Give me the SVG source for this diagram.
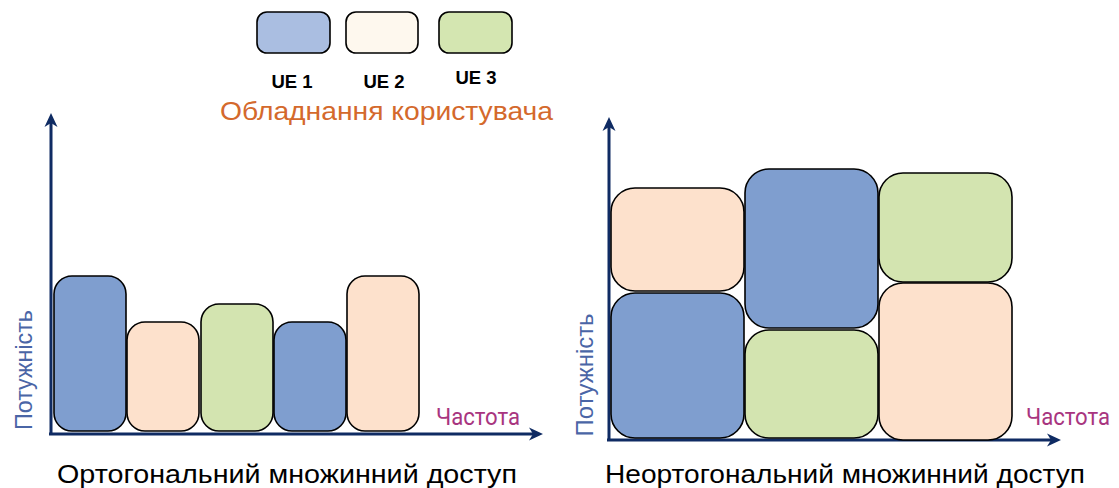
<svg xmlns="http://www.w3.org/2000/svg" width="1119" height="488" viewBox="0 0 1119 488">
  <style>
    .ue1 { fill: #7f9ecf; stroke: #000; stroke-width: 1.6; }
    .ue2 { fill: #fde1cc; stroke: #000; stroke-width: 1.6; }
    .ue3 { fill: #d3e4b0; stroke: #000; stroke-width: 1.6; }
    .leg1 { fill: #aabee1; stroke: #000; stroke-width: 1.6; }
    .leg2 { fill: #fef8ee; stroke: #000; stroke-width: 1.6; }
    .leg3 { fill: #d4e6b1; stroke: #000; stroke-width: 1.6; }
    .axis { stroke: #0f2b63; stroke-width: 3; fill: none; marker-end: url(#arrow); }
    .legtxt { font-family: "Liberation Sans", Arial, sans-serif; font-weight: bold; font-size: 18.5px; fill: #000; text-anchor: middle; }
    .title { font-family: "Liberation Sans", Arial, sans-serif; font-size: 25px; fill: #d4692c; }
    .ylab { font-family: "Liberation Sans", Arial, sans-serif; font-size: 24px; fill: #4a65a6; text-anchor: middle; }
    .xlab { font-family: Roboto, "Liberation Sans", sans-serif; font-size: 24px; fill: #a8357f; }
    .caption { font-family: "Liberation Sans", Arial, sans-serif; font-size: 25px; fill: #000; }
  </style>
  <defs>
    <marker id="arrow" markerUnits="userSpaceOnUse" markerWidth="16" markerHeight="14" refX="8" refY="7" orient="auto">
      <path d="M0,0.5 L14,7 L0,13.5 L4,7 Z" fill="#0f2b63"/>
    </marker>
  </defs>

  <!-- legend -->
  <g id="legend-ue1">
    <rect class="leg1" x="257" y="12" width="73" height="41" rx="10"/>
    <text class="legtxt" x="292" y="88">UE 1</text>
  </g>
  <g id="legend-ue2">
    <rect class="leg2" x="346" y="12" width="72" height="41" rx="10"/>
    <text class="legtxt" x="384" y="88">UE 2</text>
  </g>
  <g id="legend-ue3">
    <rect class="leg3" x="439" y="12" width="73" height="41" rx="10"/>
    <text class="legtxt" x="476" y="84">UE 3</text>
  </g>
  <g id="legend-title">
    <text class="title" x="220" y="120" textLength="333" lengthAdjust="spacingAndGlyphs">Обладнання користувача</text>
  </g>

  <!-- axes -->
  <g id="connectors">
    <line class="axis" x1="51" y1="435" x2="51" y2="119"/>
    <line class="axis" x1="49" y1="434" x2="537" y2="434"/>
    <line class="axis" x1="609" y1="441" x2="609" y2="123"/>
    <line class="axis" x1="607" y1="440" x2="1055" y2="440"/>
  </g>

  <!-- orthogonal access: bars side by side -->
  <g id="oma-ue1-a"><rect class="ue1" x="54" y="276" width="72" height="155" rx="18"/></g>
  <g id="oma-ue2-a"><rect class="ue2" x="127" y="322" width="72" height="109" rx="18"/></g>
  <g id="oma-ue3-a"><rect class="ue3" x="201" y="304" width="72" height="127" rx="18"/></g>
  <g id="oma-ue1-b"><rect class="ue1" x="274" y="322" width="72" height="109" rx="18"/></g>
  <g id="oma-ue2-b"><rect class="ue2" x="347" y="276" width="72" height="155" rx="18"/></g>

  <g id="oma-labels">
    <text class="ylab" transform="translate(32,370) rotate(-90)" textLength="120" lengthAdjust="spacingAndGlyphs">Потужність</text>
    <text class="xlab" x="436" y="425" textLength="84" lengthAdjust="spacingAndGlyphs">Частота</text>
    <text class="caption" x="57" y="483" textLength="460" lengthAdjust="spacingAndGlyphs">Ортогональний множинний доступ</text>
  </g>

  <!-- non-orthogonal access: stacked power levels -->
  <g id="noma-ue2-a"><rect class="ue2" x="611" y="188" width="133" height="103" rx="24"/></g>
  <g id="noma-ue1-a"><rect class="ue1" x="611" y="293" width="133" height="145" rx="24"/></g>
  <g id="noma-ue1-b"><rect class="ue1" x="745" y="169" width="133" height="159" rx="24"/></g>
  <g id="noma-ue3-a"><rect class="ue3" x="745" y="330" width="133" height="108" rx="24"/></g>
  <g id="noma-ue3-b"><rect class="ue3" x="879" y="173" width="133" height="109" rx="24"/></g>
  <g id="noma-ue2-b"><rect class="ue2" x="879" y="283" width="133" height="157" rx="24"/></g>

  <g id="noma-labels">
    <text class="ylab" transform="translate(593,375) rotate(-90)" textLength="123" lengthAdjust="spacingAndGlyphs">Потужність</text>
    <text class="xlab" x="1026" y="425" textLength="84" lengthAdjust="spacingAndGlyphs">Частота</text>
    <text class="caption" x="605" y="483" textLength="480" lengthAdjust="spacingAndGlyphs">Неортогональний множинний доступ</text>
  </g>
</svg>
